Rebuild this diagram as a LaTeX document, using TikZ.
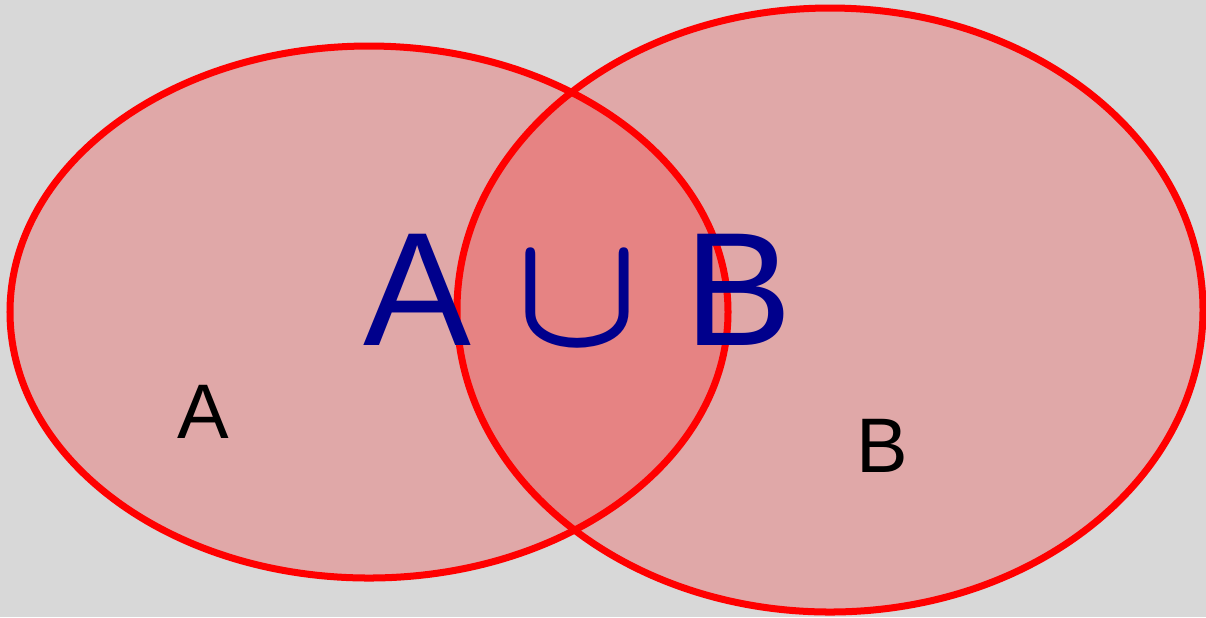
\documentclass[tikz,border=0pt]{standalone}
\usepackage{fix-cm}
\usepackage{fontspec}
\setmainfont{Liberation Sans}
\definecolor{bggrey}{RGB}{216,216,216}
\definecolor{setred}{RGB}{255,0,0}
\definecolor{unionblue}{RGB}{0,0,140}

\begin{document}
\begin{tikzpicture}[x=0.01cm,y=-0.01cm,line cap=round,line join=round]
\tikzset{setfill/.style={fill=setred,fill opacity=0.22},
         setline/.style={draw=setred,line width=0.07cm},
         setlabel/.style={anchor=base,inner sep=0pt,font=\fontsize{22}{26}\selectfont}}
\fill[bggrey] (0,0) rectangle (1206,617);
\useasboundingbox (0,0) rectangle (1206,617);
\coordinate (CA) at (369,312);
\coordinate (CB) at (830,310);
\fill[setfill] (CA) ellipse [x radius=359,y radius=266];
\fill[setfill] (CB) ellipse [x radius=373,y radius=302];
\draw[setline] (CA) ellipse [x radius=359,y radius=266];
\draw[setline] (CB) ellipse [x radius=373,y radius=302];
\node[setlabel] (labelA) at (203,438) {A};
\node[setlabel] (labelB) at (882,472) {B};
\node[anchor=base,inner sep=0pt,text=unionblue,font=\fontsize{46}{50}\selectfont] (union) at (578,345) {A {\boldmath$\cup$} B};
\end{tikzpicture}
\end{document}
